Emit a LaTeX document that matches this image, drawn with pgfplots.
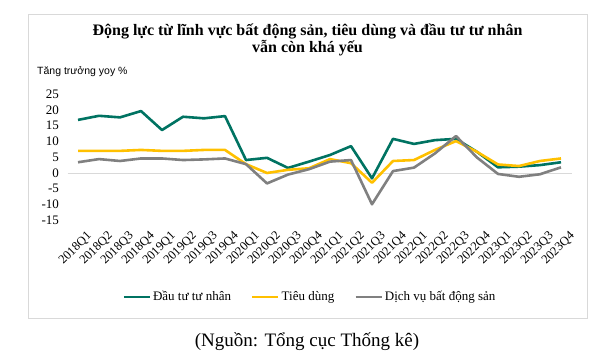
\documentclass[border=0pt]{standalone}
\usepackage{fontspec}
\setmainfont{Liberation Serif}
\newfontfamily\arialf{Liberation Sans}
\usepackage{pgfplots}
\pgfplotsset{compat=1.18}
\definecolor{cgreen}{RGB}{0,115,98}
\definecolor{cyellow}{RGB}{255,192,0}
\definecolor{cgray}{RGB}{128,128,128}
\definecolor{cframe}{RGB}{217,217,217}
\begin{document}
\begin{tikzpicture}
\path[use as bounding box] (0pt,0pt) rectangle (599pt,358pt);
\draw[cframe, line width=0.8pt] (28pt,344pt) rectangle (587pt,40pt);
\node[font=\bfseries\fontsize{16}{17}\selectfont, align=center] at (307.5pt,318.5pt) {Động lực từ lĩnh vực bất động sản, tiêu dùng và đầu tư tư nhân\\vẫn còn khá yếu};
\node[font=\arialf\fontsize{10.5}{12}\selectfont, anchor=west, inner sep=0pt] at (37pt,286pt) {Tăng trưởng yoy \%};
\node[font=\fontsize{19}{21}\selectfont] at (307pt,16pt) {(Nguồn: Tổng cục Thống kê)};
\begin{axis}[
  at={(78pt,185pt)}, anchor=origin,
  scale only axis, width=504pt, height=126.4pt,
  xmin=-0.5, xmax=23.5, ymin=-15, ymax=25,
  axis line style={draw=none},
  tick style={draw=none},
  xtick={0,...,23},
  xticklabels={2018Q1,2018Q2,2018Q3,2018Q4,2019Q1,2019Q2,2019Q3,2019Q4,2020Q1,2020Q2,2020Q3,2020Q4,2021Q1,2021Q2,2021Q3,2021Q4,2022Q1,2022Q2,2022Q3,2022Q4,2023Q1,2023Q2,2023Q3,2023Q4},
  x tick label style={rotate=45, anchor=east, font=\fontsize{12.5}{13}\selectfont, xshift=2pt, yshift=-18pt},
  ytick={-15,-10,...,25},
  yticklabels={-15,-10,-5,0,5,10,15,20,25},
  y tick label style={font=\fontsize{13}{13}\selectfont, xshift=-5pt},
  extra y ticks={0}, extra y tick labels={},
  extra y tick style={grid=major, major grid style={cframe, line width=0.8pt}},
  clip=false,
  legend style={at={(0.481,-0.606)}, anchor=center, legend columns=3, draw=none, fill=none,
    font=\fontsize{13}{14}\selectfont, cells={anchor=west},
    /tikz/every even column/.append style={column sep=18pt}},
  legend image code/.code={\draw[#1, line width=2.6pt] (0pt,0pt) -- (26pt,0pt);},
  every axis plot/.append style={line width=2.6pt, line join=round, mark=none},
]
\addplot[cgreen] coordinates {(0,16.8)(1,18.1)(2,17.6)(3,19.6)(4,13.6)(5,17.8)(6,17.3)(7,18.0)(8,4.1)(9,4.8)(10,1.6)(11,3.6)(12,5.7)(13,8.5)(14,-1.7)(15,10.8)(16,9.2)(17,10.4)(18,10.8)(19,6.7)(20,1.8)(21,2.0)(22,2.5)(23,3.4)};
\addlegendentry{Đầu tư tư nhân}
\addplot[cyellow] coordinates {(0,7.0)(1,7.0)(2,7.0)(3,7.3)(4,7.0)(5,7.0)(6,7.3)(7,7.3)(8,2.8)(9,0.0)(10,1.0)(11,1.5)(12,4.4)(13,3.1)(14,-3.1)(15,3.8)(16,4.1)(17,7.3)(18,10.1)(19,6.7)(20,2.7)(21,2.2)(22,3.8)(23,4.6)};
\addlegendentry{Tiêu dùng}
\addplot[cgray] coordinates {(0,3.4)(1,4.4)(2,3.8)(3,4.6)(4,4.6)(5,4.1)(6,4.3)(7,4.6)(8,2.8)(9,-3.3)(10,-0.5)(11,1.2)(12,3.6)(13,4.1)(14,-9.9)(15,0.6)(16,1.7)(17,6.2)(18,11.7)(19,4.9)(20,-0.3)(21,-1.2)(22,-0.4)(23,1.8)};
\addlegendentry{Dịch vụ bất động sản}
\end{axis}
\end{tikzpicture}
\end{document}
